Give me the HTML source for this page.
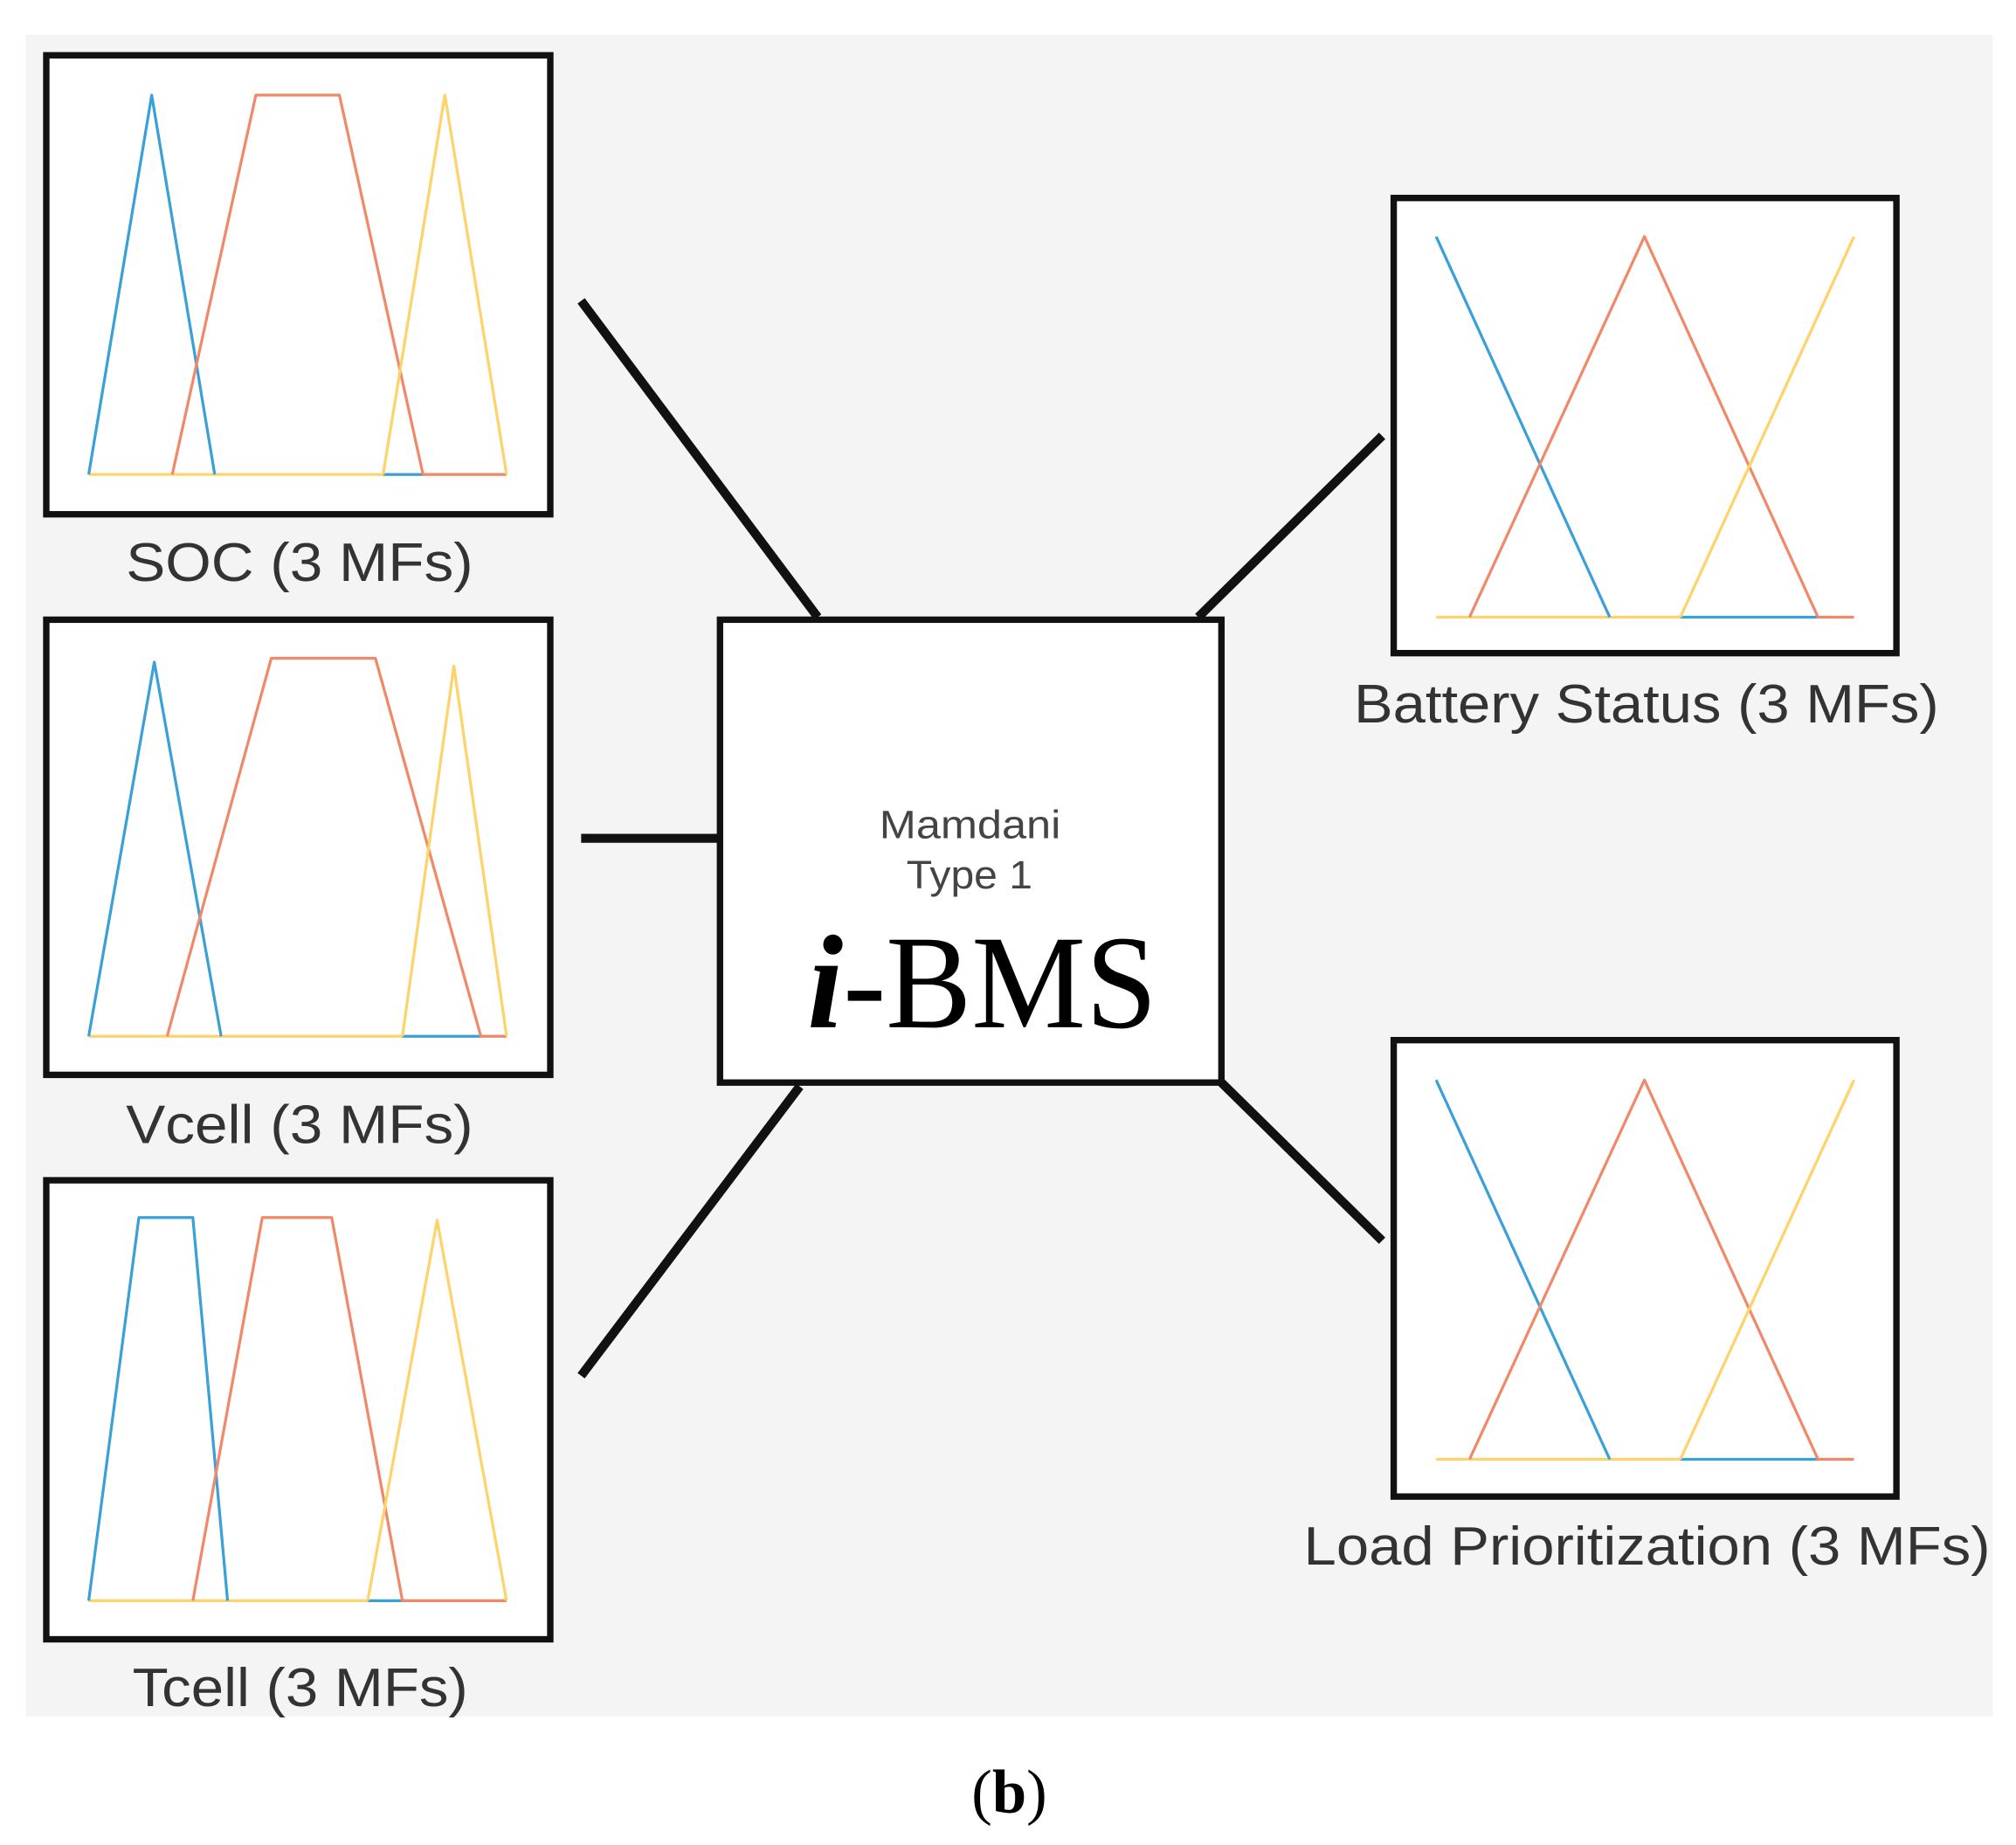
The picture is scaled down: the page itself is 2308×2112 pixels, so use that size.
<!DOCTYPE html>
<html><head><meta charset="utf-8"><style>
html,body{margin:0;padding:0;background:#fff;}
svg{display:block;}
</style></head><body>
<svg width="2308" height="2112" viewBox="0 0 1568 1435" preserveAspectRatio="none" xmlns="http://www.w3.org/2000/svg">
<rect x="20" y="27" width="1530" height="1308" fill="#f4f4f4"/>
<g stroke="#111" stroke-width="7" fill="none">
<line x1="452" y1="234" x2="636" y2="480"/>
<line x1="452" y1="652" x2="560" y2="652"/>
<line x1="452" y1="1070" x2="622" y2="845"/>
<line x1="932" y1="480" x2="1075" y2="339"/>
<line x1="950" y1="842" x2="1075" y2="965"/>
</g>
<g stroke="#111" stroke-width="5" fill="#fff">
<rect x="36" y="43" width="392" height="357"/>
<rect x="36" y="482" width="392" height="354"/>
<rect x="36" y="918" width="392" height="357"/>
<rect x="560" y="482" width="390" height="360"/>
<rect x="1084" y="154" width="391" height="354"/>
<rect x="1084" y="809" width="391" height="355"/>
</g>
<g fill="none" stroke-width="2.2" stroke-linejoin="round">
<line x1="69" y1="369" x2="394" y2="369" stroke="#fdd36a"/>
<polyline points="69,369 118,74 167,369" stroke="#3aa0d8"/>
<line x1="298" y1="369" x2="329" y2="369" stroke="#3aa0d8"/>
<polyline points="134,369 199,74 264,74 329,369 394,369" stroke="#f0896a"/>
<polyline points="298,369 346,74 394,369" stroke="#fdd36a"/>
<line x1="69" y1="806" x2="394" y2="806" stroke="#fdd36a"/>
<polyline points="69,806 120,515 172,806" stroke="#3aa0d8"/>
<line x1="313" y1="806" x2="374" y2="806" stroke="#3aa0d8"/>
<polyline points="130,806 211,512 292,512 374,806 394,806" stroke="#f0896a"/>
<polyline points="313,806 353,518 394,806" stroke="#fdd36a"/>
<line x1="69" y1="1245" x2="394" y2="1245" stroke="#fdd36a"/>
<polyline points="69,1245 108,947 150,947 177,1245" stroke="#3aa0d8"/>
<line x1="286" y1="1245" x2="313" y2="1245" stroke="#3aa0d8"/>
<polyline points="150,1245 204,947 258,947 313,1245 394,1245" stroke="#f0896a"/>
<polyline points="286,1245 340,949 394,1245" stroke="#fdd36a"/>
<line x1="1117" y1="480" x2="1307" y2="480" stroke="#fdd36a"/>
<polyline points="1117,184 1252,480" stroke="#3aa0d8"/>
<line x1="1307" y1="480" x2="1414" y2="480" stroke="#3aa0d8"/>
<polyline points="1143,480 1279,184 1414,480 1442,480" stroke="#f0896a"/>
<polyline points="1307,480 1442,184" stroke="#fdd36a"/>
<line x1="1117" y1="1135" x2="1307" y2="1135" stroke="#fdd36a"/>
<polyline points="1117,840 1252,1135" stroke="#3aa0d8"/>
<line x1="1307" y1="1135" x2="1414" y2="1135" stroke="#3aa0d8"/>
<polyline points="1143,1135 1279,840 1414,1135 1442,1135" stroke="#f0896a"/>
<polyline points="1307,1135 1442,840" stroke="#fdd36a"/>
</g>
<g font-family="Liberation Sans, sans-serif" fill="#333" font-size="42" lengthAdjust="spacingAndGlyphs">
<text x="98" y="452" textLength="270" lengthAdjust="spacingAndGlyphs">SOC (3 MFs)</text>
<text x="98" y="889" textLength="270" lengthAdjust="spacingAndGlyphs">Vcell (3 MFs)</text>
<text x="103" y="1327" textLength="261" lengthAdjust="spacingAndGlyphs">Tcell (3 MFs)</text>
<text x="1053" y="562" textLength="455" lengthAdjust="spacingAndGlyphs">Battery Status (3 MFs)</text>
<text x="1014" y="1217" textLength="534" lengthAdjust="spacingAndGlyphs">Load Prioritization (3 MFs)</text>
<text x="684" y="652" font-size="31" fill="#444" textLength="141" lengthAdjust="spacingAndGlyphs">Mamdani</text>
<text x="705" y="691" font-size="31" fill="#444" textLength="98" lengthAdjust="spacingAndGlyphs">Type 1</text>
</g>
<text x="628" y="799" font-family="Liberation Serif, serif" font-size="104" fill="#000" textLength="272" lengthAdjust="spacingAndGlyphs"><tspan font-style="italic" font-weight="bold">i</tspan>-BMS</text>
<text x="785" y="1410" text-anchor="middle" font-family="Liberation Serif, serif" font-size="48" fill="#000">(<tspan font-weight="bold">b</tspan>)</text>
</svg>
</body></html>
